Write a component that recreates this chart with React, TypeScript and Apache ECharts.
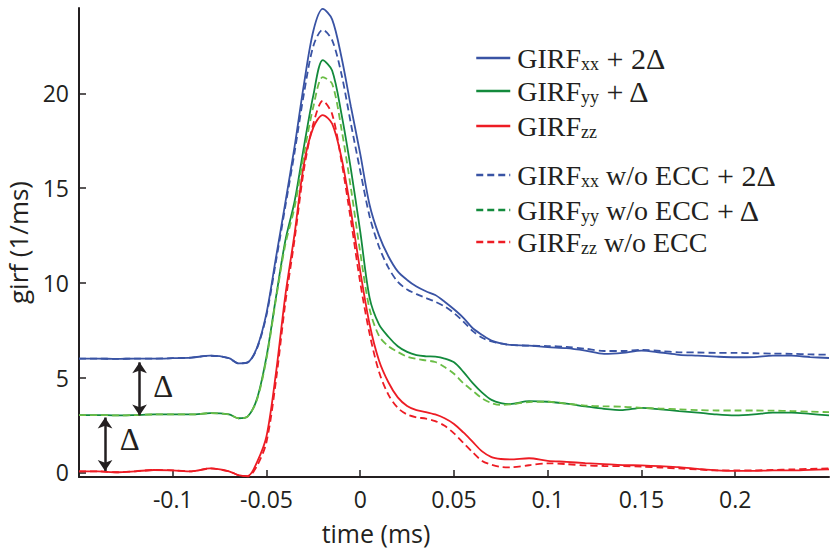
import React, { useEffect, useRef } from "react";
import * as echarts from "echarts";

const time = [-0.15, -0.14, -0.13, -0.12, -0.11, -0.1, -0.09, -0.08, -0.07, -0.065, -0.06, -0.055, -0.05, -0.045, -0.04, -0.035, -0.03, -0.025, -0.02, -0.015, -0.01, -0.005, 0, 0.005, 0.01, 0.015, 0.02, 0.025, 0.03, 0.035, 0.04, 0.045, 0.05, 0.055, 0.06, 0.065, 0.07, 0.075, 0.08, 0.09, 0.1, 0.11, 0.12, 0.13, 0.14, 0.15, 0.16, 0.17, 0.18, 0.19, 0.2, 0.21, 0.22, 0.23, 0.24, 0.25];

const girfXX = [6.0, 6.0, 5.98, 6.0, 6.0, 6.02, 6.05, 6.15, 6.02, 5.75, 5.8, 6.6, 8.4, 11.3, 14.2, 17.2, 20.5, 23.3, 24.45, 23.9, 21.9, 19.3, 16.8, 14.1, 12.5, 11.4, 10.6, 10.15, 9.8, 9.55, 9.35, 9.0, 8.6, 8.15, 7.6, 7.25, 6.95, 6.8, 6.72, 6.68, 6.6, 6.55, 6.42, 6.25, 6.3, 6.42, 6.32, 6.2, 6.15, 6.1, 6.07, 6.08, 6.15, 6.15, 6.08, 6.03];
const girfYY = [3.02, 3.02, 3.0, 3.02, 3.05, 3.05, 3.05, 3.12, 3.05, 2.85, 2.95, 3.9, 6.1, 9.2, 12.2, 14.3, 17.2, 19.9, 21.75, 21.2, 18.9, 16.0, 12.7, 9.2, 7.8, 7.15, 6.65, 6.35, 6.18, 6.12, 6.1, 6.0, 5.8, 5.3, 4.7, 4.2, 3.82, 3.65, 3.6, 3.75, 3.72, 3.62, 3.48, 3.35, 3.28, 3.4, 3.32, 3.23, 3.15, 3.05, 3.0, 3.05, 3.15, 3.15, 3.08, 3.0];
const girfZZ = [0.05, 0.05, 0.0, 0.05, 0.12, 0.1, 0.05, 0.2, 0.05, -0.15, -0.2, 0.55, 1.9, 5.2, 9.3, 12.6, 16.3, 18.2, 18.85, 18.4, 16.6, 13.8, 10.6, 7.8, 5.9, 4.75, 3.95, 3.5, 3.28, 3.18, 3.05, 2.85, 2.55, 2.1, 1.6, 1.1, 0.8, 0.7, 0.68, 0.74, 0.6, 0.55, 0.48, 0.43, 0.38, 0.36, 0.32, 0.27, 0.18, 0.1, 0.07, 0.07, 0.1, 0.1, 0.13, 0.15];
const girfXXnoEcc = [6.0, 6.0, 5.98, 6.0, 6.0, 6.02, 6.05, 6.15, 6.02, 5.75, 5.8, 6.55, 8.3, 11.1, 14.0, 16.9, 20.0, 22.5, 23.35, 22.8, 21.0, 18.4, 15.9, 13.5, 11.9, 10.8, 10.05, 9.65, 9.4, 9.2, 9.0, 8.75, 8.4, 7.95, 7.45, 7.1, 6.9, 6.8, 6.72, 6.68, 6.66, 6.62, 6.52, 6.4, 6.4, 6.46, 6.4, 6.33, 6.32, 6.3, 6.3, 6.28, 6.26, 6.25, 6.22, 6.2];
const girfYYnoEcc = [3.02, 3.02, 3.0, 3.02, 3.05, 3.05, 3.05, 3.12, 3.05, 2.85, 2.95, 3.85, 6.0, 9.1, 12.0, 14.0, 16.8, 19.3, 20.85, 20.5, 18.1, 15.0, 11.6, 8.6, 7.2, 6.65, 6.35, 6.1, 5.98, 5.9, 5.82, 5.55, 5.2, 4.7, 4.3, 3.9, 3.65, 3.55, 3.58, 3.7, 3.72, 3.62, 3.52, 3.48, 3.46, 3.4, 3.36, 3.32, 3.28, 3.26, 3.26, 3.26, 3.25, 3.23, 3.2, 3.17];
const girfZZnoEcc = [0.05, 0.05, 0.0, 0.05, 0.12, 0.1, 0.05, 0.2, 0.05, -0.15, -0.22, 0.35, 1.6, 4.8, 8.9, 12.3, 16.0, 18.4, 19.6, 18.9, 16.4, 13.3, 10.0, 7.3, 5.3, 4.1, 3.4, 3.05, 2.9, 2.83, 2.7, 2.45, 2.05, 1.55, 1.05, 0.6, 0.4, 0.28, 0.26, 0.37, 0.47, 0.43, 0.36, 0.33, 0.32, 0.3, 0.25, 0.2, 0.15, 0.1, 0.1, 0.1, 0.12, 0.15, 0.18, 0.2];

const xTicks = [-0.1, -0.05, 0, 0.05, 0.1, 0.15, 0.2];
const yTicks = [0, 5, 10, 15, 20];

const seriesNames = [
  "GIRFxx + 2Δ",
  "GIRFyy + Δ",
  "GIRFzz",
  "GIRFxx w/o ECC + 2Δ",
  "GIRFyy w/o ECC + Δ",
  "GIRFzz w/o ECC",
];
const legendRich: Record<string, string> = {
  "GIRFxx + 2Δ": "{m|GIRF}{s|xx}{p| + 2Δ}",
  "GIRFyy + Δ": "{m|GIRF}{s|yy}{p| + Δ}",
  "GIRFzz": "{m|GIRF}{s|zz}",
  "GIRFxx w/o ECC + 2Δ": "{m|GIRF}{s|xx}{m| w/o ECC}{p| + 2Δ}",
  "GIRFyy w/o ECC + Δ": "{m|GIRF}{s|yy}{m| w/o ECC}{p| + Δ}",
  "GIRFzz w/o ECC": "{m|GIRF}{s|zz}{m| w/o ECC}",
};
const legendRowCenters = [60, 93, 127, 177, 212, 243];

// annotation arrows (data coordinates)
const arrowX = [-0.1177, -0.1361];
const arrowTop = [5.8, 2.89];
const arrowBottom = [3.0, 0.07];
const deltaLabelPos = [[-0.1051, 4.55], [-0.123, 1.74]];

const BLUE = "#3953a4";
const GREEN = "#138a3c";
const LIGHTGREEN = "#6abd45";
const RED = "#ed1c24";
const INK = "#231f20";

export default function App() {
  const ref = useRef<HTMLDivElement>(null);
  useEffect(() => {
    if (!ref.current) return;
    const chart = echarts.init(ref.current, null, { renderer: "svg" });
    const mk = (vals: number[]) => time.map((t, i) => [t, vals[i]]);
    const lineSeries = (name: string, vals: number[], color: string, dashed: boolean, extra: any = {}) => ({
      name,
      type: "line",
      data: mk(vals),
      smooth: 0.3,
      showSymbol: false,
      symbol: "none",
      lineStyle: { color, width: 1.8, type: dashed ? [7, 4] : "solid" },
      itemStyle: { color },
      z: dashed ? 3 : 2,
      ...extra,
    });
    const rich = {
      m: { fontFamily: "Liberation Serif", fontSize: 28, color: INK, lineHeight: 30 },
      s: { fontFamily: "Liberation Serif", fontSize: 18, color: INK, lineHeight: 20, verticalAlign: "bottom" },
      p: { fontFamily: "Liberation Serif", fontSize: 30, color: INK, lineHeight: 30 },
    };
    const legends = seriesNames.map((n, i) => ({
      orient: "vertical",
      left: 470,
      top: legendRowCenters[i] - (n.includes("+") ? 22 : 20),
      itemWidth: 34,
      itemHeight: 14,
      itemGap: 0,
      formatter: (nm: string) => legendRich[nm] || nm,
      textStyle: { rich, padding: [0, 0, 0, 2] },
      lineStyle: { width: 2.5 },
      itemStyle: { opacity: 0, borderWidth: 0 },
      selectedMode: false,
      data: [i === 4 ? { name: n, lineStyle: { color: GREEN } } : n],
    }));
    chart.setOption({
      animation: false,
      grid: { left: 79, right: 1, top: 8, bottom: 73, containLabel: false, outerBoundsMode: "none" },
      legend: legends,
      xAxis: {
        type: "value",
        min: -0.15,
        max: 0.25,
        axisLine: { show: true, onZero: false, lineStyle: { color: INK, width: 2 } },
        axisTick: { show: true, inside: true, length: 7, customValues: xTicks, lineStyle: { color: INK, width: 1.5 } },
        axisLabel: {
          customValues: xTicks,
          formatter: (v: number) => String(+v.toFixed(2)),
          fontFamily: "Open Sans",
          fontSize: 23,
          color: INK,
          margin: 10,
        },
        splitLine: { show: false },
      },
      yAxis: {
        type: "value",
        min: -0.25,
        max: 24.5,
        name: "girf (1/ms)",
        nameLocation: "middle",
        nameGap: 48,
        nameRotate: 90,
        nameTextStyle: { fontFamily: "Open Sans", fontSize: 26, color: INK },
        axisLine: { show: true, onZero: false, lineStyle: { color: INK, width: 2 } },
        axisTick: { show: true, inside: true, length: 7, customValues: yTicks, lineStyle: { color: INK, width: 1.5 } },
        axisLabel: {
          customValues: yTicks,
          fontFamily: "Open Sans",
          fontSize: 23,
          color: INK,
          margin: 10,
        },
        splitLine: { show: false },
      },
      graphic: [
        {
          type: "text",
          x: 376,
          y: 533,
          style: {
            text: "time (ms)",
            fontFamily: "Open Sans",
            fontSize: 25,
            fill: INK,
            textAlign: "center",
            textVerticalAlign: "middle",
          },
        },
      ],
      series: [
        lineSeries(seriesNames[0], girfXX, BLUE, false),
        lineSeries(seriesNames[1], girfYY, GREEN, false),
        lineSeries(seriesNames[2], girfZZ, RED, false, {
          markLine: {
            silent: true,
            symbol: ["arrow", "arrow"],
            symbolSize: [11, 11],
            lineStyle: { color: INK, width: 2.5, type: "solid" },
            label: { show: false },
            data: arrowX.map((x, i) => [
              { coord: [x, arrowTop[i]] },
              { coord: [x, arrowBottom[i]] },
            ]),
          },
          markPoint: {
            silent: true,
            symbol: "circle",
            symbolSize: 1,
            itemStyle: { color: "rgba(0,0,0,0)" },
            label: {
              show: true,
              position: "inside",
              formatter: "Δ",
              fontFamily: "Liberation Serif",
              fontSize: 31,
              color: INK,
            },
            data: deltaLabelPos.map((p) => ({ coord: p })),
          },
        }),
        lineSeries(seriesNames[3], girfXXnoEcc, BLUE, true),
        lineSeries(seriesNames[4], girfYYnoEcc, LIGHTGREEN, true),
        lineSeries(seriesNames[5], girfZZnoEcc, RED, true),
      ],
    });
    return () => chart.dispose();
  }, []);
  return (
    <div
      ref={ref}
      style={{ position: "fixed", left: 0, top: 0, width: 830, height: 550, background: "#fff" }}
    />
  );
}
